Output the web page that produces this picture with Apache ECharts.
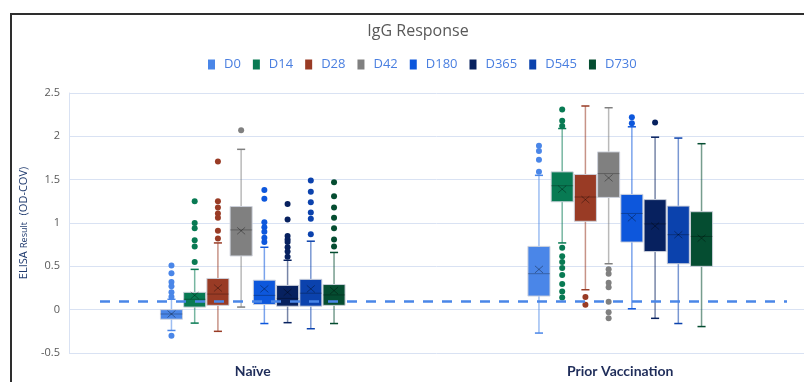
<!DOCTYPE html>
<html>
<head>
<meta charset="utf-8">
<script src="https://cdn.jsdelivr.net/npm/echarts@6/dist/echarts.min.js"></script>
<style>
  html, body { margin: 0; padding: 0; background: #ffffff; }
  #chart { width: 804px; height: 382px; }
</style>
</head>
<body>
<div id="chart"></div>
<script>
// Cohorts on the horizontal axis and sampling days within each cohort
const groups = ['Naïve', 'Prior Vaccination'];
const timepoints = ['D0', 'D14', 'D28', 'D42', 'D180', 'D365', 'D545', 'D730'];
const colors = ['#4a86e8', '#087a53', '#993b25', '#808080', '#0d57dc', '#07215f', '#0b42ad', '#054d31'];

// Per day: [lower whisker, Q1, median, Q3, upper whisker, mean]
const naiveStats = [
  [-0.24, -0.11, -0.05, 0.00, 0.12, -0.05],
  [-0.155, 0.03, 0.12, 0.20, 0.465, 0.165],
  [-0.25, 0.05, 0.18, 0.36, 0.77, 0.25],
  [0.03, 0.62, 0.92, 1.19, 1.85, 0.91],
  [-0.16, 0.06, 0.165, 0.34, 0.72, 0.24],
  [-0.15, 0.04, 0.13, 0.28, 0.57, 0.20],
  [-0.22, 0.04, 0.19, 0.35, 0.79, 0.24],
  [-0.16, 0.05, 0.17, 0.29, 0.66, 0.22]
];
const priorStats = [
  [-0.27, 0.157, 0.415, 0.73, 1.55, 0.465],
  [0.77, 1.245, 1.43, 1.59, 2.09, 1.39],
  [0.23, 1.02, 1.30, 1.56, 2.35, 1.27],
  [0.53, 1.295, 1.57, 1.82, 2.33, 1.52],
  [0.01, 0.78, 1.11, 1.33, 2.11, 1.06],
  [-0.10, 0.67, 0.99, 1.27, 1.99, 0.965],
  [-0.16, 0.53, 0.865, 1.195, 1.98, 0.865],
  [-0.195, 0.50, 0.845, 1.13, 1.915, 0.825]
];

// Outlying results per day
const naiveOutliers = [
  [0.51, 0.42, 0.32, 0.27, 0.20, 0.15, -0.30],
  [1.25, 1.00, 0.94, 0.80, 0.73, 0.55],
  [1.71, 1.25, 1.18, 1.11, 1.06, 0.91, 0.82],
  [2.07],
  [1.38, 1.28, 1.01, 0.95, 0.90, 0.83, 0.78],
  [1.22, 1.04, 0.85, 0.81, 0.78, 0.72, 0.67, 0.61],
  [1.49, 1.36, 1.24, 1.12, 1.05, 0.87],
  [1.47, 1.31, 1.18, 1.06, 0.94, 0.81, 0.73]
];
const priorOutliers = [
  [1.89, 1.83, 1.73, 1.59],
  [2.31, 2.18, 2.12, 0.715, 0.615, 0.55, 0.48, 0.40, 0.295, 0.21, 0.14],
  [0.145, 0.058],
  [0.465, 0.415, 0.31, 0.26, 0.09, -0.03, -0.10],
  [2.22, 2.15],
  [2.16],
  [],
  []
];

// Positivity cut-off
const cutoff = 0.1;

// Value axis range
const yMin = -0.5, yMax = 2.5, yStep = 0.5;

// Box geometry in units of the hidden cohort axis (one unit per cohort)
const STEP = 0.0632;
const BOX_W = 0.06;
const CAP_W = 0.022;

const statsByGroup = [naiveStats, priorStats];
const outliersByGroup = [naiveOutliers, priorOutliers];

function renderBox(params, api) {
  const x = api.value(0);
  const c = api.visual('color');
  const p = i => api.coord([x, api.value(i)]);
  const lo = p(1), q1 = p(2), md = p(3), q3 = p(4), hi = p(5), mn = p(6);
  const cx = lo[0];
  const hw = api.size([BOX_W, 0])[0] / 2;
  const cw = api.size([CAP_W, 0])[0] / 2;
  const xw = 4, xh = 3.5;
  const whisker = { stroke: c, lineWidth: 1.5, opacity: 0.55 };
  const cap = { stroke: c, lineWidth: 1.5 };
  return {
    type: 'group',
    children: [
      { type: 'line', shape: { x1: cx, y1: hi[1], x2: cx, y2: q3[1] }, style: whisker },
      { type: 'line', shape: { x1: cx, y1: q1[1], x2: cx, y2: lo[1] }, style: whisker },
      { type: 'line', shape: { x1: cx - cw, y1: hi[1], x2: cx + cw, y2: hi[1] }, style: cap },
      { type: 'line', shape: { x1: cx - cw, y1: lo[1], x2: cx + cw, y2: lo[1] }, style: cap },
      { type: 'rect', shape: { x: cx - hw, y: q3[1], width: hw * 2, height: q1[1] - q3[1] },
        style: { fill: c, stroke: 'rgba(205,210,220,0.95)', lineWidth: 1 } },
      { type: 'line', shape: { x1: cx - hw, y1: md[1], x2: cx + hw, y2: md[1] },
        style: { stroke: 'rgba(0,0,0,0.28)', lineWidth: 1 } },
      { type: 'line', shape: { x1: cx - xw, y1: mn[1] - xh, x2: cx + xw, y2: mn[1] + xh },
        style: { stroke: 'rgba(0,0,0,0.35)', lineWidth: 1 } },
      { type: 'line', shape: { x1: cx - xw, y1: mn[1] + xh, x2: cx + xw, y2: mn[1] - xh },
        style: { stroke: 'rgba(0,0,0,0.35)', lineWidth: 1 } }
    ]
  };
}

const series = [];
timepoints.forEach((name, k) => {
  const off = (k - 3.5) * STEP;
  series.push({
    name: name,
    type: 'custom',
    xAxisIndex: 1,
    yAxisIndex: 0,
    z: 2,
    silent: true,
    itemStyle: { color: colors[k] },
    encode: { x: 0, y: [1, 2, 3, 4, 5, 6] },
    data: statsByGroup.map((stats, g) => [g + off].concat(stats[k])),
    renderItem: renderBox
  });
  const pts = [];
  outliersByGroup.forEach((outs, g) => outs[k].forEach(v => pts.push([g + off, v])));
  series.push({
    name: name,
    type: 'scatter',
    xAxisIndex: 1,
    yAxisIndex: 0,
    z: 3,
    silent: true,
    symbolSize: 6,
    itemStyle: { color: colors[k], opacity: 1 },
    data: pts
  });
});

// Dashed cut-off line drawn on top of the boxes
series[1].markLine = {
  silent: true,
  z: 6,
  symbol: 'none',
  label: { show: false },
  lineStyle: { color: '#4a86e8', width: 2.5, type: [10, 9] },
  data: [[{ x: 100, yAxis: cutoff }, { x: 787, yAxis: cutoff }]]
};

const chart = echarts.init(document.getElementById('chart'), null, { renderer: 'canvas' });
chart.setOption({
  animation: false,
  backgroundColor: '#ffffff',
  title: {
    text: 'IgG Response',
    left: 413,
    textAlign: 'center',
    top: 18,
    textStyle: { color: '#595959', fontSize: 16, fontWeight: 'normal', fontFamily: 'Open Sans' }
  },
  legend: {
    data: timepoints,
    top: 53,
    left: 203,
    icon: 'rect',
    itemWidth: 7,
    itemHeight: 10,
    itemGap: 12,
    textStyle: { color: '#4a7fe0', fontSize: 13, fontFamily: 'Open Sans', padding: [0, 0, 0, 4] }
  },
  grid: { left: 69, right: -3, top: 93, bottom: 29, containLabel: false },
  xAxis: [
    {
      type: 'category',
      data: groups,
      axisLine: { show: false },
      axisTick: { show: false },
      splitLine: { show: false },
      axisLabel: {
        margin: 11,
        color: '#1f2d5a',
        fontSize: 14,
        fontWeight: 'bold',
        fontFamily: 'Lato'
      }
    },
    {
      type: 'value',
      min: -0.5,
      max: 1.5,
      show: false
    }
  ],
  yAxis: {
    type: 'value',
    min: yMin,
    max: yMax,
    interval: yStep,
    name: '{big|ELISA} {small|Result}  {big|(OD-COV)}',
    nameLocation: 'middle',
    nameGap: 36,
    nameRotate: 90,
    nameTextStyle: {
      rich: {
        big: { fontSize: 11, color: '#1f3a6e', fontFamily: 'Open Sans' },
        small: { fontSize: 9, color: '#1f3a6e', fontFamily: 'Open Sans' }
      }
    },
    axisLine: { show: true, onZero: false, lineStyle: { color: '#d9e2f3', width: 1 } },
    axisTick: { show: false },
    axisLabel: {
      margin: 9,
      color: '#595959',
      fontSize: 11,
      fontFamily: 'Open Sans'
    },
    splitLine: { lineStyle: { color: '#d9e2f3', width: 1 } }
  },
  graphic: [
    { type: 'line', silent: true, shape: { x1: 10, y1: 14, x2: 804, y2: 14 }, style: { stroke: '#2e2e2e', lineWidth: 2 } },
    { type: 'line', silent: true, shape: { x1: 11, y1: 13, x2: 11, y2: 382 }, style: { stroke: '#2e2e2e', lineWidth: 2 } }
  ],
  series: series
});
</script>
</body>
</html>
